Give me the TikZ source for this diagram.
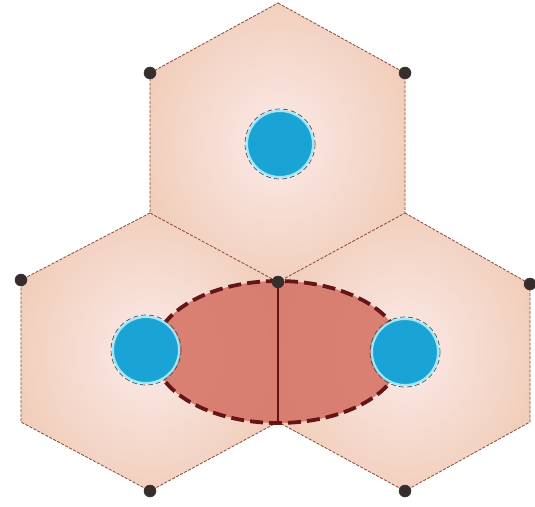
\documentclass[tikz,border=0pt]{standalone}
\usetikzlibrary{calc}
\definecolor{hexin}{RGB}{249,230,226}
\definecolor{hexout}{RGB}{238,196,170}
\definecolor{hexedge}{RGB}{140,70,58}
\definecolor{ellfill}{RGB}{214,118,104}
\definecolor{elledge}{RGB}{100,22,22}
\definecolor{bluefill}{RGB}{26,164,214}
\definecolor{bluering}{RGB}{160,232,245}
\definecolor{blueout}{RGB}{50,90,110}
\definecolor{dotcol}{RGB}{55,45,45}
\pgfdeclareradialshading{hexshade}{\pgfpoint{0bp}{0bp}}{color(0bp)=(hexin); color(4bp)=(hexin); color(36bp)=(hexout); color(50bp)=(hexout)}
\begin{document}
\begin{tikzpicture}[x=1pt,y=-1pt,
  hexfill/.style={shading=hexshade},
  hexline/.style={draw=hexedge, line width=0.8pt, dash pattern=on 3pt off 1.5pt},
  ellbody/.style={fill=ellfill, fill opacity=0.9},
  ellborder/.style={draw=elledge, line width=3.8pt, dash pattern=on 13pt off 6pt},
  midline/.style={draw=elledge, line width=1.1pt},
  bluedisc/.style={fill=bluefill, draw=bluering, line width=2pt},
  blueedge/.style={draw=blueout, line width=0.7pt, dash pattern=on 5pt off 3pt},
  vdot/.style={circle, fill=dotcol, draw=black!80, line width=0.5pt, inner sep=0pt, minimum size=12pt}]
\fill[white] (0,0) rectangle (535,506);
\useasboundingbox (0,0) rectangle (535,506);
% vertices
\coordinate (t1) at (278,3);
\coordinate (t2) at (405,73);
\coordinate (t3) at (405,213);
\coordinate (C)  at (278,282);
\coordinate (t5) at (150,213);
\coordinate (t6) at (150,73);
\coordinate (l3) at (278,422);
\coordinate (l4) at (150,491);
\coordinate (l5) at (21,422);
\coordinate (l6) at (21,280);
\coordinate (r2) at (530,284);
\coordinate (r3) at (530,422);
\coordinate (r4) at (405,491);
% centres
\coordinate (ct) at (280,144);
\coordinate (cl) at (146,350);
\coordinate (cr) at (405,352);
\coordinate (ce) at (278,352);
% hexagons
\path[hexfill] (t1) -- (t2) -- (t3) -- (C) -- (t5) -- (t6) -- cycle;
\path[hexfill] (t5) -- (C) -- (l3) -- (l4) -- (l5) -- (l6) -- cycle;
\path[hexfill] (t3) -- (r2) -- (r3) -- (r4) -- (l3) -- (C) -- cycle;
\draw[hexline] (t1) -- (t2) -- (t3) -- (C) -- (t5) -- (t6) -- cycle;
\draw[hexline] (t5) -- (l6) -- (l5) -- (l4) -- (l3);
\draw[hexline] (t3) -- (r2) -- (r3) -- (r4) -- (l3);
% ellipse
\path[ellbody] (ce) ellipse [x radius=124, y radius=71];
\draw[midline] (C) -- (l3);
\draw[ellborder] (ce) ellipse [x radius=124, y radius=71];
% blue discs
\foreach \c in {ct,cl,cr}{
  \draw[blueedge] (\c) circle [radius=35];
  \draw[bluedisc] (\c) circle [radius=33];
}
% dots
\node[vdot] (d1) at (t6) {};
\node[vdot] (d2) at (t2) {};
\node[vdot] (d3) at (l6) {};
\node[vdot] (d4) at (C) {};
\node[vdot] (d5) at (r2) {};
\node[vdot] (d6) at (l4) {};
\node[vdot] (d7) at (r4) {};
\end{tikzpicture}
\end{document}
